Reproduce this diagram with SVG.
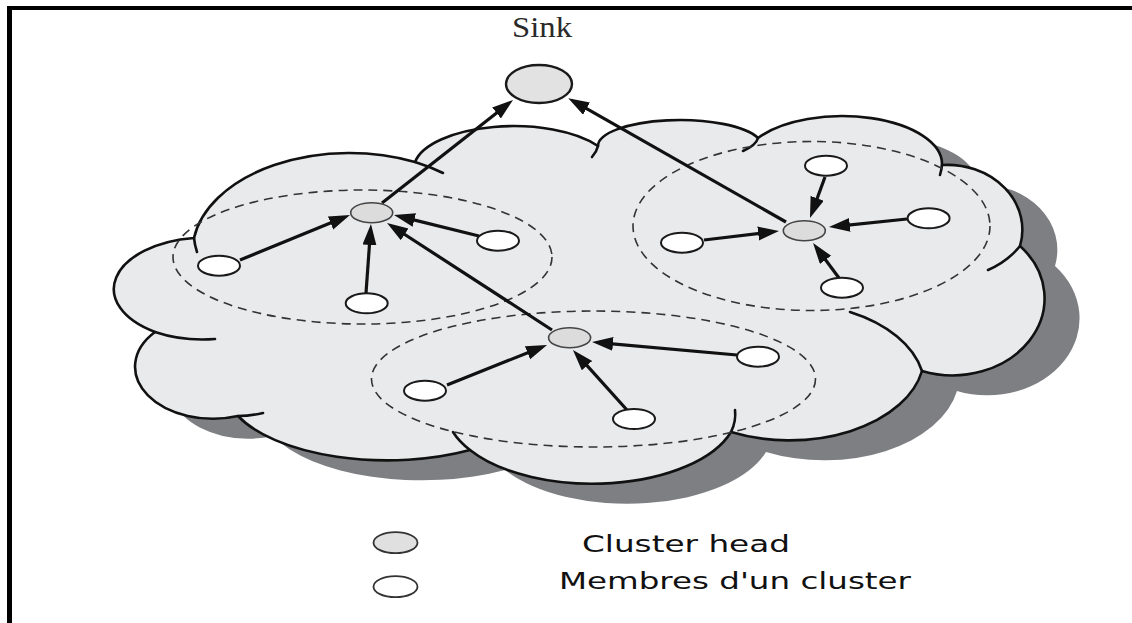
<svg xmlns="http://www.w3.org/2000/svg" width="1132" height="623" viewBox="0 0 1132 623">
  <style>
    .frame { fill: #000; }
    .cloud { fill: #e9eaec; stroke: #111; stroke-width: 2.6; stroke-linejoin: round; }
    .shadow { fill: #7e7f83; }
    .tail { fill: none; stroke: #111; stroke-width: 2.6; stroke-linecap: round; }
    .zone { fill: none; stroke: #333; stroke-width: 1.6; stroke-dasharray: 9 6; }
    .link { stroke: #111; stroke-width: 3.2; fill: none; marker-end: url(#head); }
    .member { fill: #fff; stroke: #1a1a1a; stroke-width: 2; }
    .ch { fill: #dcdcdc; stroke: #444; stroke-width: 1.6; }
    .sink { fill: #e2e2e2; stroke: #1a1a1a; stroke-width: 2.4; }
    .legend { font-family: "DejaVu Sans", Verdana, sans-serif; font-size: 23px; fill: #111; }
    .title { font-family: "Liberation Serif", "Times New Roman", serif; font-size: 30px; fill: #2a2a2a; }
  </style>
  <defs>
    <marker id="head" markerUnits="userSpaceOnUse" markerWidth="22" markerHeight="15" refX="9" refY="7" orient="auto">
      <path d="M0,0 L21,7 L0,14 Z" fill="#111"/>
    </marker>
    <path id="cloudOutline" d="M194,238 A157 99 0 0 1 415,162 A100 43 0 0 1 598,146 A82 26 0 0 1 758,138 A100 48 0 0 1 942,165 A75 65 0 0 1 1020,246 A92 77 0 0 1 922,371 A135 85 0 0 1 731,432 A145 73 0 0 1 470,450 A162 73 0 0 1 238,416 A78 52 0 0 1 155,332 A92 51.5 0 0 1 194,238 Z"/>
  </defs>

  <!-- frame -->
  <rect class="frame" x="7" y="6" width="1125" height="4"/>
  <rect class="frame" x="7" y="6" width="5" height="617"/>

  <!-- cloud with drop shadow -->
  <g id="cloud">
    <use href="#cloudOutline" class="shadow" transform="translate(35,20)"/>
    <use href="#cloudOutline" class="cloud"/>
    <path class="tail" d="M194,238 A157 99 0 0 0 197,252"/>
    <path class="tail" d="M415,162 A157 99 0 0 1 443,173"/>
    <path class="tail" d="M598,146 A100 43 0 0 1 592,157"/>
    <path class="tail" d="M758,138 A82 26 0 0 1 743,151"/>
    <path class="tail" d="M942,165 A75 65 0 0 1 940,175"/>
    <path class="tail" d="M1020,246 A85 75 0 0 1 988,270"/>
    <path class="tail" d="M922,371 A135 85 0 0 0 850,312"/>
    <path class="tail" d="M731,432 A145 73 0 0 0 735,410"/>
    <path class="tail" d="M470,450 A145 73 0 0 1 453,432"/>
    <path class="tail" d="M238,416 A78 52 0 0 0 263,413"/>
    <path class="tail" d="M155,332 A92 51.5 0 0 0 215,339"/>
  </g>

  <!-- cluster boundaries -->
  <g id="zones">
    <ellipse class="zone" cx="362.5" cy="257" rx="189.5" ry="67"/>
    <ellipse class="zone" cx="811.5" cy="226" rx="178.5" ry="84.5"/>
    <ellipse class="zone" cx="593.5" cy="379" rx="222" ry="68"/>
  </g>

  <!-- connectors -->
  <g id="connectors">
    <line class="link" x1="240" y1="260" x2="338.9" y2="219.5"/>
    <line class="link" x1="366" y1="293" x2="370.1" y2="236"/>
    <line class="link" x1="479" y1="236" x2="405.6" y2="217.9"/>
    <line class="link" x1="552" y1="330" x2="397.1" y2="229.5"/>
    <line class="link" x1="382" y1="203" x2="503.6" y2="107.4"/>
    <line class="link" x1="786" y1="222" x2="578.7" y2="104.2"/>
    <line class="link" x1="825" y1="177" x2="814.1" y2="206.7"/>
    <line class="link" x1="907" y1="219" x2="840.9" y2="225.8"/>
    <line class="link" x1="704" y1="240" x2="767.1" y2="232.4"/>
    <line class="link" x1="839" y1="278" x2="820.2" y2="252.6"/>
    <line class="link" x1="447" y1="385" x2="535.9" y2="349.5"/>
    <line class="link" x1="737" y1="355" x2="604" y2="343.1"/>
    <line class="link" x1="627" y1="410" x2="581" y2="358.9"/>
  </g>

  <!-- sink -->
  <g id="sink">
    <text class="title" x="512" y="37" textLength="60" lengthAdjust="spacingAndGlyphs">Sink</text>
    <ellipse class="sink" cx="539" cy="84" rx="33" ry="19"/>
  </g>

  <!-- cluster 1 -->
  <g id="cluster1-head"><ellipse class="ch" cx="371.7" cy="212.7" rx="21" ry="10"/></g>
  <g id="cluster1-m1"><ellipse class="member" cx="219" cy="265.7" rx="21" ry="10"/></g>
  <g id="cluster1-m2"><ellipse class="member" cx="366.7" cy="303.3" rx="21" ry="10"/></g>
  <g id="cluster1-m3"><ellipse class="member" cx="498" cy="240.7" rx="21" ry="10"/></g>

  <!-- cluster 2 -->
  <g id="cluster2-head"><ellipse class="ch" cx="804.3" cy="230.7" rx="21" ry="10"/></g>
  <g id="cluster2-m1"><ellipse class="member" cx="826" cy="165.7" rx="21" ry="10"/></g>
  <g id="cluster2-m2"><ellipse class="member" cx="928.6" cy="218.3" rx="21" ry="10"/></g>
  <g id="cluster2-m3"><ellipse class="member" cx="682" cy="242.7" rx="21" ry="10"/></g>
  <g id="cluster2-m4"><ellipse class="member" cx="842" cy="287.7" rx="21" ry="10"/></g>

  <!-- cluster 3 -->
  <g id="cluster3-head"><ellipse class="ch" cx="569.6" cy="337.7" rx="21" ry="10"/></g>
  <g id="cluster3-m1"><ellipse class="member" cx="425" cy="390.7" rx="21" ry="10"/></g>
  <g id="cluster3-m2"><ellipse class="member" cx="758" cy="356.7" rx="21" ry="10"/></g>
  <g id="cluster3-m3"><ellipse class="member" cx="634" cy="419" rx="21" ry="10"/></g>

  <!-- legend -->
  <g id="legend-head">
    <ellipse cx="395.5" cy="542.7" rx="22" ry="10.5" fill="#e0e0e0" stroke="#333" stroke-width="1.8"/>
    <text class="legend" x="582" y="552" textLength="208" lengthAdjust="spacingAndGlyphs">Cluster head</text>
  </g>
  <g id="legend-member">
    <ellipse cx="395.5" cy="586.7" rx="22" ry="10.5" fill="#fff" stroke="#333" stroke-width="1.8"/>
    <text class="legend" x="559" y="589" textLength="352" lengthAdjust="spacingAndGlyphs">Membres d'un cluster</text>
  </g>
</svg>
